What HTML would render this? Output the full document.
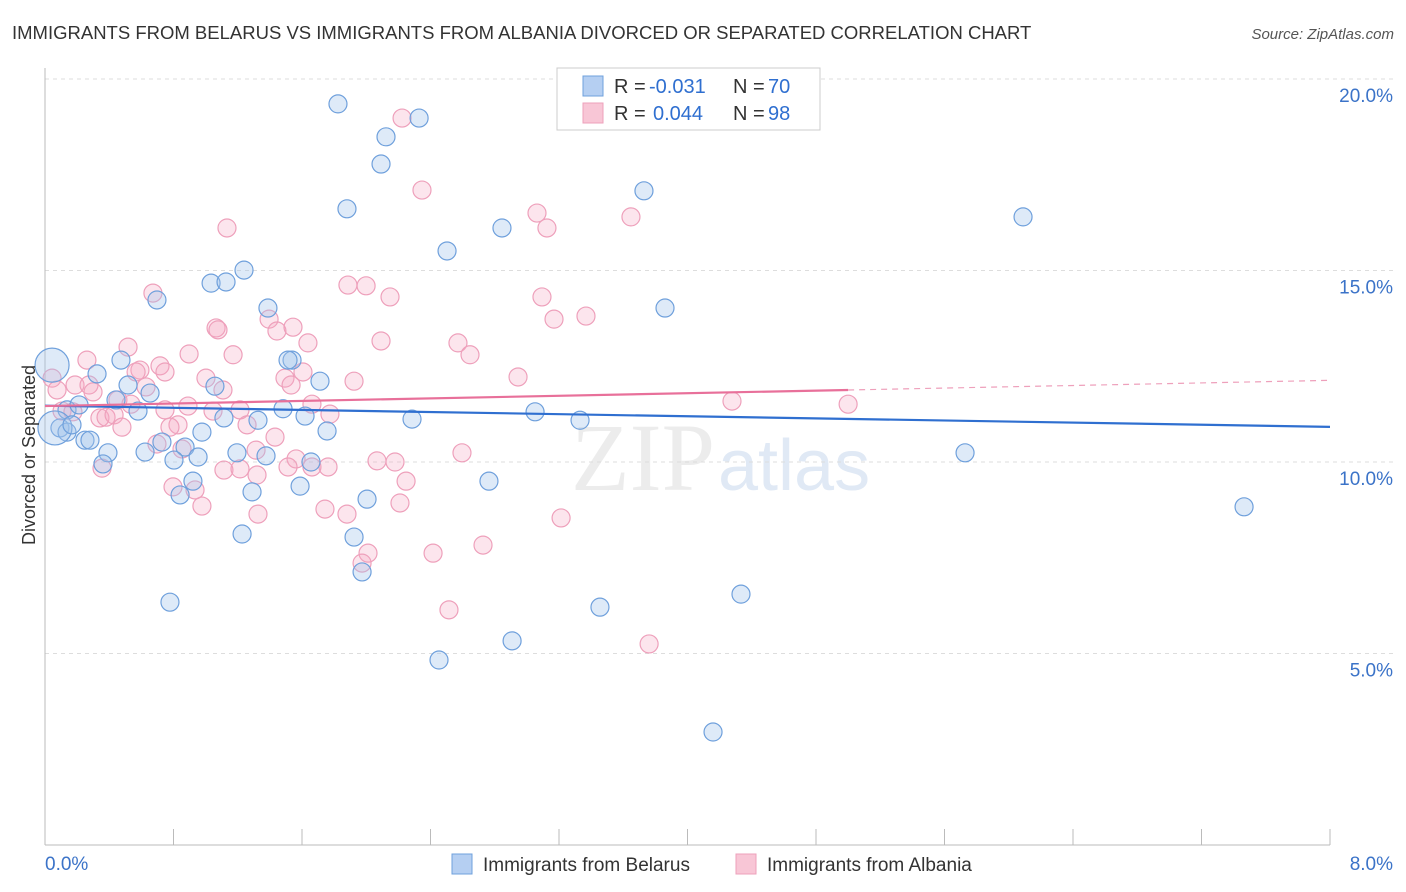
<!DOCTYPE html>
<html><head><meta charset="utf-8"><style>
body{margin:0;background:#fff;font-family:"Liberation Sans",sans-serif}
svg{display:block}
</style></head><body>
<svg id="chart" width="1406" height="892" xmlns="http://www.w3.org/2000/svg">
<text x="12" y="39" font-size="18.5" fill="#333">IMMIGRANTS FROM BELARUS VS IMMIGRANTS FROM ALBANIA DIVORCED OR SEPARATED CORRELATION CHART</text>
<text x="1394" y="39" font-size="15" fill="#555" text-anchor="end" font-style="italic">Source: ZipAtlas.com</text>
<text x="715" y="490" font-size="96" fill="#ececec" text-anchor="end" font-family="Liberation Serif">ZIP</text>
<text x="718" y="490" font-size="72" fill="#e0e9f5">atlas</text>
<g id="grid"></g><g id="axes"></g><g id="pinkpts"></g><g id="bluepts"></g><g id="lines"></g>
<text x="35" y="455" font-size="18" fill="#333" text-anchor="middle" transform="rotate(-90 35 455)">Divorced or Separated</text>
<g>
<rect x="557" y="68" width="263" height="62" fill="#fff" stroke="#ccc"/>
<rect x="583" y="76" width="20" height="20" fill="#b5cff2" stroke="#6fa0dc"/>
<rect x="583" y="103" width="20" height="20" fill="#f8c6d6" stroke="#eea0bb"/>
<text x="614" y="93" font-size="20" fill="#333">R =</text>
<text x="649" y="93" font-size="20" fill="#2f6fd0">-0.031</text>
<text x="733" y="93" font-size="20" fill="#333">N =</text>
<text x="768" y="93" font-size="20" fill="#2f6fd0">70</text>
<text x="614" y="120" font-size="20" fill="#333">R =</text>
<text x="653" y="120" font-size="20" fill="#2f6fd0">0.044</text>
<text x="733" y="120" font-size="20" fill="#333">N =</text>
<text x="768" y="120" font-size="20" fill="#2f6fd0">98</text>
</g>
<g>
<rect x="452" y="854" width="20" height="20" fill="#b5cff2" stroke="#6fa0dc"/>
<text x="483" y="871" font-size="19" fill="#333">Immigrants from Belarus</text>
<rect x="736" y="854" width="20" height="20" fill="#f8c6d6" stroke="#eea0bb"/>
<text x="767" y="871" font-size="19" fill="#333">Immigrants from Albania</text>
</g>
</svg>
<script>
const yTicks=[5,10,15,20];
const xTickLabels=["0.0%","8.0%"];
const blueX=[1.824,2.329,2.123,2.092,3.729,1.880,6.089,2.845,2.503,1.239,1.034,1.127,0.697,1.388,3.860,1.538,1.513,0.473,0.324,1.712,0.517,1.058,0.654,0.442,0.579,1.482,1.619,3.051,3.331,2.285,1.114,1.326,0.137,0.212,0.093,0.137,0.249,0.280,1.756,0.977,0.728,0.872,0.392,0.623,1.195,1.376,7.465,5.728,0.953,0.803,1.656,0.361,2.764,0.921,1.588,0.841,1.289,2.005,1.227,1.924,1.974,0.778,4.333,3.455,2.908,2.453,4.159,0.044,0.062,0.168];
const blueY=[19.35,18.98,18.49,17.78,17.08,16.61,16.40,16.11,15.51,15.01,14.67,14.70,14.23,14.02,14.02,12.66,12.66,12.66,12.30,12.11,12.01,11.98,11.80,11.62,11.33,11.39,11.20,11.31,11.09,11.12,11.15,11.09,11.36,11.49,10.89,10.78,10.57,10.57,10.81,10.78,10.52,10.39,10.24,10.26,10.24,10.16,8.83,10.24,10.13,10.05,10.00,9.95,9.50,9.50,9.37,9.14,9.22,9.03,8.12,8.04,7.13,6.34,6.55,6.21,5.33,4.83,2.95,12.53,10.89,10.97];
const blueBig=[67,68];
const pinkX=[2.223,2.347,3.063,3.125,3.648,1.133,0.672,1.886,1.999,2.148,3.094,1.395,3.169,3.368,1.444,1.544,1.065,1.077,0.517,2.092,1.637,2.571,2.646,0.897,1.171,0.261,0.716,0.591,0.567,0.747,1.494,2.945,1.924,1.002,0.044,0.075,0.187,0.274,0.299,0.629,1.606,1.532,1.108,4.277,5.000,0.454,0.535,0.890,0.747,1.046,1.214,1.662,1.774,0.106,0.174,0.342,0.380,0.430,0.479,0.828,0.778,1.258,1.432,0.697,0.853,1.314,1.563,2.067,2.179,2.596,0.355,1.114,1.214,1.320,1.513,1.762,1.662,2.248,0.797,0.934,0.977,2.210,1.743,1.880,1.326,3.213,2.727,2.011,1.974,2.416,2.515,3.761];
const pinkY=[18.98,17.10,16.50,16.11,16.40,16.11,14.41,14.62,14.60,14.31,14.31,13.73,13.73,13.81,13.42,13.52,13.50,13.45,13.00,13.16,13.11,13.11,12.80,12.82,12.80,12.66,12.51,12.40,12.35,12.35,12.19,12.22,12.11,12.19,12.19,11.88,12.01,12.01,11.83,11.96,12.35,12.01,11.88,11.59,11.51,11.62,11.51,11.46,11.36,11.33,11.36,11.51,11.25,11.33,11.31,11.15,11.17,11.23,10.91,10.97,10.91,10.97,10.65,10.47,10.34,10.31,10.08,10.03,10.00,10.24,9.84,9.79,9.82,9.66,9.87,9.87,9.87,9.50,9.35,9.27,8.85,8.93,8.77,8.64,8.64,8.54,7.83,7.62,7.36,7.62,6.14,5.25];
const blueFit=[11.47,-0.069];
const pinkFit=[11.46,0.084];
const pinkFitEnd=5.0;
const X0=45,X1=1330,YB=845;
const sx=v=>X0+(v/8)*(X1-X0);
const sy=v=>YB-v*38.3;
const NS="http://www.w3.org/2000/svg";
function mk(tag,attrs,parent){const e=document.createElementNS(NS,tag);for(const k in attrs)e.setAttribute(k,attrs[k]);parent.appendChild(e);return e;}
const grid=document.getElementById('grid'),axes=document.getElementById('axes');
yTicks.forEach(t=>{
 const l=mk('line',{x1:X0,x2:1394,y1:sy(t),y2:sy(t),stroke:'#ddd','stroke-dasharray':'4 4'},grid);
 
 
 const tx=mk('text',{x:1393,y:sy(t)+23,'font-size':19,fill:'#3b73c8','text-anchor':'end'},axes);
 tx.textContent=t.toFixed(1)+'%';
 
 
});
const ax=mk('line',{x1:X0,x2:X1,y1:YB,y2:YB,stroke:'#bbb'},axes);


const ay=mk('line',{x1:X0,x2:X0,y1:68,y2:YB,stroke:'#bbb'},axes);


for(let i=0;i<=10;i++){
 const t=mk('line',{x1:sx(i*0.8),x2:sx(i*0.8),y1:YB,y2:YB-16,stroke:'#bbb'},axes);
 
 
}
[[0,'start',X0],[1,'end',1393]].forEach(([i,a,x])=>{
 const tx=mk('text',{x:x,y:870,'font-size':19,fill:'#3b73c8','text-anchor':a},axes);
 tx.textContent=xTickLabels[i];
 
 
});
const pp=document.getElementById('pinkpts');
pinkX.forEach((v,i)=>{
 const c=mk('circle',{cx:sx(v),cy:sy(pinkY[i]),r:9,fill:'rgba(245,170,195,0.3)',stroke:'#eea0bb','stroke-width':1.2},pp);
 
 
});
const bp=document.getElementById('bluepts');
blueX.forEach((v,i)=>{
 const big=blueBig.includes(i);
 const c=mk('circle',{cx:sx(v),cy:sy(blueY[i]),r:big?17:9,fill:'rgba(160,195,235,0.35)',stroke:'#6fa0dc','stroke-width':1.2},bp);
 
 
});
const lg=document.getElementById('lines');
const bl=mk('line',{x1:sx(0),y1:sy(blueFit[0]),x2:sx(8),y2:sy(blueFit[0]+blueFit[1]*8),stroke:'#2f6fd0','stroke-width':2.2},lg);


const pl=mk('line',{x1:sx(0),y1:sy(pinkFit[0]),x2:sx(pinkFitEnd),y2:sy(pinkFit[0]+pinkFit[1]*pinkFitEnd),stroke:'#e8709a','stroke-width':2.2},lg);


const pd=mk('line',{x1:sx(pinkFitEnd),y1:sy(pinkFit[0]+pinkFit[1]*pinkFitEnd),x2:sx(8),y2:sy(pinkFit[0]+pinkFit[1]*8),stroke:'#eea0bb','stroke-width':1.2,'stroke-dasharray':'6 5'},lg);


</script>
</body></html>
